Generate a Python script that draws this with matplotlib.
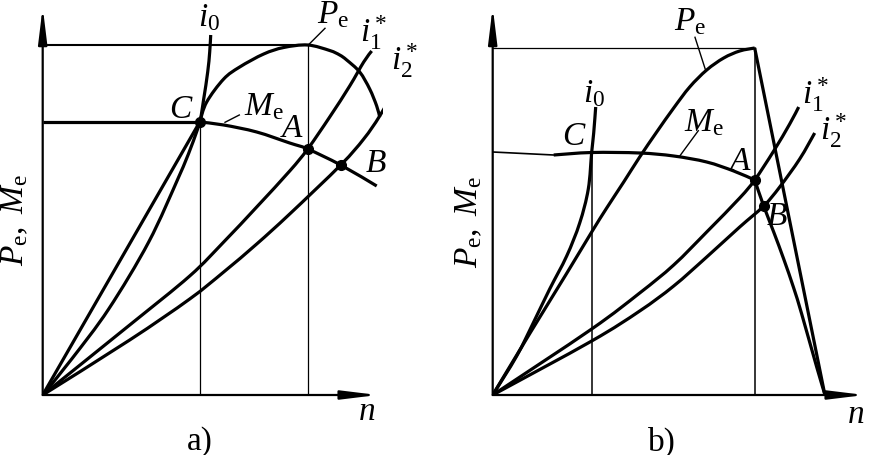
import matplotlib
matplotlib.use("Agg")
import matplotlib.pyplot as plt
from matplotlib.path import Path
from matplotlib.patches import PathPatch

plt.rcParams['font.family'] = ['Liberation Serif', 'DejaVu Serif']
plt.rcParams['mathtext.fontset'] = 'custom'
plt.rcParams['mathtext.rm'] = 'Liberation Serif'
plt.rcParams['mathtext.it'] = 'Liberation Serif:italic'
plt.rcParams['mathtext.bf'] = 'Liberation Serif:bold'

# ---------------- panel a) data (n, value) ----------------
a_pe_lin_n = [0, 157]
a_pe_lin_v = [0, 273]
a_pe_arc_n = [157, 164, 181, 197, 221, 241, 265, 287, 297, 304, 317, 327, 334, 337]
a_pe_arc_v = [273, 293, 316, 328, 341, 347.5, 350, 344.5, 340, 335, 323, 306, 289, 278]
a_i0_n = [0, 29, 66, 106, 136, 148, 157, 161, 165, 167, 168]
a_i0_v = [0, 36, 86, 153, 218, 247, 273, 296, 323, 343, 360]
a_i1_n = [0, 87, 147, 181, 214, 247, 265, 287, 307, 321, 329]
a_i1_v = [0, 70, 119, 153, 188, 224, 246, 278, 309, 333, 344]
a_i2_n = [0, 87, 147, 181, 214, 247, 298, 321, 337, 354, 361]
a_i2_v = [0, 55, 96, 123, 151, 181, 230, 256, 279, 309, 319]
a_me_flat_n = [0, 157]
a_me_flat_v = [273, 273]
a_me_n = [157, 181, 214, 247, 265, 298, 334]
a_me_v = [273, 270, 263, 252, 246, 230, 209]
a_pts_n = [157, 265, 298]          # C, A, B
a_pts_v = [273, 246, 230]
a_pmax = 350
a_nA = 265

# ---------------- panel b) data ----------------
b_pe_n = [0, 38, 73, 99, 114, 131, 147, 164, 181, 197, 214, 231, 247, 262]
b_pe_v = [0, 63, 120, 163, 187, 213, 238, 263, 287, 308, 325, 337, 344, 347]
b_pe_fall_n = [262, 332]
b_pe_fall_v = [347, 1]
b_i0_n = [0, 24, 41, 57, 74, 87, 95.6, 99, 101, 103]
b_i0_v = [0, 39, 73, 106, 139, 172, 206, 243, 262, 288]
b_i1_n = [0, 99, 147, 181, 214, 247, 262, 281, 297, 306]
b_i1_v = [0, 66, 102, 130, 163, 197, 215, 244, 271, 288]
b_i2_n = [0, 99, 147, 181, 214, 247, 271, 287, 307, 322]
b_i2_v = [0, 54, 84, 109, 138, 168, 189, 208, 236, 262]
b_me_n = [61, 99, 147, 181, 214, 241, 262]
b_me_v = [240, 242.5, 242, 239, 233, 224, 215]
b_me_fall_n = [262, 271, 281, 291, 301, 309, 324, 332]
b_me_fall_v = [215, 189, 163, 136, 107, 81, 28, 1]
b_pts_n = [262, 271]               # A, B
b_pts_v = [215, 189]
b_pmax = 347
b_nmax = 262
b_nC = 99
b_mC = 243

W, H = 869, 456
fig = plt.figure(figsize=(W / 100, H / 100), dpi=100)

TH = 2.3   # thick curve width
TN = 0.9   # thin line width
FS = 24


def make_ax(x0, y0, w, h):
    ax = fig.add_axes([x0 / W, (H - y0) / H, w / W, h / H])
    ax.set_xlim(0, w)
    ax.set_ylim(0, h)
    ax.axis('off')
    return ax


def smooth(ax, xs, ys, lw=TH):
    """Draw a smooth curve through the given points (Catmull-Rom as Bezier path)."""
    pts = list(zip(xs, ys))
    if len(pts) < 3:
        ax.plot(xs, ys, color='black', lw=lw, solid_capstyle='butt')
        return
    verts = [pts[0]]
    codes = [Path.MOVETO]
    n = len(pts)
    for i in range(n - 1):
        p0 = pts[i - 1] if i > 0 else pts[i]
        p1 = pts[i]
        p2 = pts[i + 1]
        p3 = pts[i + 2] if i + 2 < n else pts[i + 1]
        c1 = (p1[0] + (p2[0] - p0[0]) / 6, p1[1] + (p2[1] - p0[1]) / 6)
        c2 = (p2[0] - (p3[0] - p1[0]) / 6, p2[1] - (p3[1] - p1[1]) / 6)
        verts += [c1, c2, p2]
        codes += [Path.CURVE4] * 3
    ax.add_patch(PathPatch(Path(verts, codes), fill=False, lw=lw,
                           edgecolor='black', capstyle='butt', joinstyle='round'))


def axes_arrows(ax, xend, yend):
    ap = dict(arrowstyle='-|>,head_length=1.8,head_width=0.22', color='black',
              lw=1.6, shrinkA=0, shrinkB=0, mutation_scale=12)
    ax.annotate('', xy=(xend, 0), xytext=(0, 0), arrowprops=ap, annotation_clip=False)
    ax.annotate('', xy=(0, yend), xytext=(0, 0), arrowprops=ap, annotation_clip=False)


def t(ax, x, y, s, **kw):
    ax.text(x, y, s, ha='center', va='center', fontsize=kw.pop('fs', FS), clip_on=False, **kw)


# ================= panel a =================
ax = make_ax(42.7, 396, 340, 396)
axes_arrows(ax, 335, 388)
ax.plot([0, a_nA], [a_pmax, a_pmax], color='black', lw=1.5)
ax.plot([a_nA, a_nA], [0, a_pmax], color='black', lw=TN)
ax.plot([a_pts_n[0], a_pts_n[0]], [0, a_pts_v[0]], color='black', lw=TN)
for n, v in [(a_pe_lin_n, a_pe_lin_v), (a_pe_arc_n, a_pe_arc_v), (a_i0_n, a_i0_v),
             (a_i1_n, a_i1_v), (a_i2_n, a_i2_v), (a_me_flat_n, a_me_flat_v),
             (a_me_n, a_me_v)]:
    smooth(ax, n, v)
ax.plot(a_pts_n, a_pts_v, 'o', color='black', ms=7)
ax.plot([266.6, 282.3], [351, 366.7], color='black', lw=1.0)
ax.plot([182.3, 196.6], [272.7, 280], color='black', lw=1.0)
t(ax, 166, 378, r'$i_0$')
t(ax, 290, 381, r'$P_\mathrm{e}$')
t(ax, 331, 363, r'$i_1^*$')
t(ax, 362, 335, r'$i_2^*$')
t(ax, 139, 286, r'$C$')
t(ax, 221, 289, r'$M_\mathrm{e}$')
t(ax, 249, 267, r'$A$')
t(ax, 333, 232, r'$B$')
t(ax, 324, -16, r'$n$')
t(ax, 157, -46, 'a)')
t(ax, -28, 176, r'$P_\mathrm{e},\ M_\mathrm{e}$', rotation=90)

# ================= panel b =================
bx = make_ax(492.7, 396, 376, 396)
axes_arrows(bx, 372, 388)
bx.plot([0, b_nmax], [b_pmax, b_pmax], color='black', lw=TN)
bx.plot([b_nmax, b_nmax], [0, b_pmax], color='black', lw=1.1)
bx.plot([b_nC, b_nC], [0, b_mC], color='black', lw=1.1)
bx.plot([0, b_me_n[0]], [b_mC, b_me_v[0]], color='black', lw=1.2)
for n, v in [(b_pe_n, b_pe_v), (b_pe_fall_n, b_pe_fall_v), (b_i0_n, b_i0_v),
             (b_i1_n, b_i1_v), (b_i2_n, b_i2_v), (b_me_n, b_me_v),
             (b_me_fall_n, b_me_fall_v)]:
    smooth(bx, n, v)
bx.plot(b_pts_n, b_pts_v, 'o', color='black', ms=7)
bx.plot([202.3, 212.5], [357.7, 326], color='black', lw=1.0)
bx.plot([205.6, 187.3], [264.3, 239.3], color='black', lw=1.0)
t(bx, 197, 374, r'$P_\mathrm{e}$')
t(bx, 101, 302, r'$i_0$')
t(bx, 211, 273, r'$M_\mathrm{e}$')
t(bx, 82, 259, r'$C$')
t(bx, 247, 234, r'$A$')
t(bx, 284, 179, r'$B$')
t(bx, 323, 301, r'$i_1^*$')
t(bx, 341, 265, r'$i_2^*$')
t(bx, 363, -19, r'$n$')
t(bx, 169, -46, 'b)')
t(bx, -24, 174, r'$P_\mathrm{e},\ M_\mathrm{e}$', rotation=90)

fig.savefig('out.png', dpi=100)
